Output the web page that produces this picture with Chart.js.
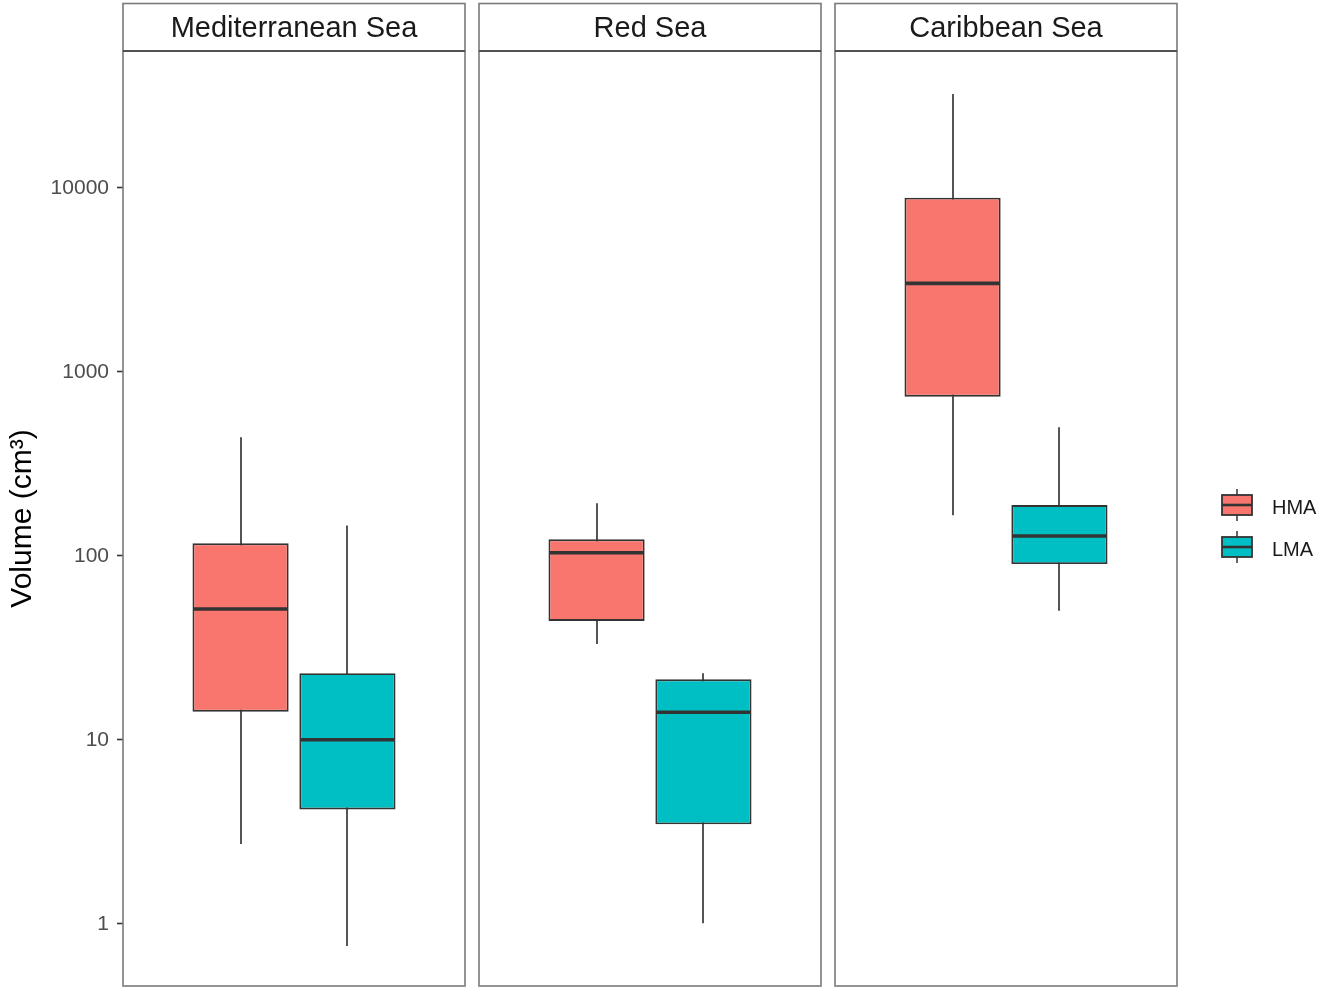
<!DOCTYPE html>
<html>
<head>
<meta charset="utf-8">
<title>Volume by sea and group</title>
<script src="https://cdn.jsdelivr.net/npm/chart.js@4.4.1/dist/chart.umd.min.js"></script>
<style>
  html, body { margin: 0; padding: 0; background: #ffffff; }
  #wrap { position: relative; width: 1324px; height: 988px; overflow: hidden; }
  #wrap canvas { position: absolute; top: 0; }
</style>
</head>
<body>
<div id="wrap">
  <canvas id="panel0" width="467" height="988" style="left:0px"></canvas>
  <canvas id="panel1" width="346" height="988" style="left:477px"></canvas>
  <canvas id="panel2" width="491" height="988" style="left:833px"></canvas>
</div>
<script>
// Facets and groups
const seas = ['Mediterranean Sea', 'Red Sea', 'Caribbean Sea'];
const groups = ['HMA', 'LMA'];
const groupColors = ['#F8766D', '#00BFC4'];

// Five-number summaries per sea (cm³), one entry per facet
const hmaLow    = [2.71, 33.1, 166];
const hmaQ1     = [14.2, 44.2, 731];
const hmaMedian = [51.3, 103.8, 3020];
const hmaQ3     = [116.8, 122.8, 8830];
const hmaHigh   = [440, 192.7, 32300];

const lmaLow    = [0.756, 1.005, 50.2];
const lmaQ1     = [4.18, 3.47, 90.1];
const lmaMedian = [10, 14.1, 128];
const lmaQ3     = [23.0, 21.3, 188.6];
const lmaHigh   = [146, 23.0, 499];

// Log axis
const yTicks = [1, 10, 100, 1000, 10000];
const yTickLabels = ['1', '10', '100', '1000', '10000'];
const yMin = 0.4586;
const yMax = 55340;
const yTitle = 'Volume (cm³)';

const FONT = "'Liberation Sans', Arial, Helvetica, sans-serif";

const summaries = [
  { low: hmaLow, q1: hmaQ1, median: hmaMedian, q3: hmaQ3, high: hmaHigh },
  { low: lmaLow, q1: lmaQ1, median: lmaMedian, q3: lmaQ3, high: lmaHigh }
];

// Whiskers go under the boxes, medians on top of them
const boxplotParts = {
  id: 'boxplotParts',
  beforeDatasetsDraw(chart) {
    const ctx = chart.ctx, y = chart.scales.y;
    chart.data.datasets.forEach((ds, di) => {
      chart.getDatasetMeta(di).data.forEach((bar) => {
        const s = ds.stats;
        const x = Math.round(bar.x);
        ctx.save();
        ctx.strokeStyle = '#555555';
        ctx.lineWidth = 2;
        ctx.beginPath();
        ctx.moveTo(x, y.getPixelForValue(s.high));
        ctx.lineTo(x, y.getPixelForValue(s.low));
        ctx.stroke();
        ctx.restore();
      });
    });
  },
  afterDatasetsDraw(chart) {
    const ctx = chart.ctx, y = chart.scales.y;
    chart.data.datasets.forEach((ds, di) => {
      chart.getDatasetMeta(di).data.forEach((bar) => {
        const yy = y.getPixelForValue(ds.stats.median);
        ctx.save();
        ctx.strokeStyle = '#333333';
        ctx.lineWidth = 3.6;
        ctx.beginPath();
        ctx.moveTo(bar.x - bar.width / 2 + 1, yy);
        ctx.lineTo(bar.x + bar.width / 2 - 1, yy);
        ctx.stroke();
        ctx.restore();
      });
    });
  }
};

// Panel frame and facet strip
const facetFrame = {
  id: 'facetFrame',
  afterDraw(chart, args, opts) {
    const ctx = chart.ctx, a = chart.chartArea;
    ctx.save();
    // strip
    ctx.fillStyle = '#ffffff';
    ctx.fillRect(a.left, 3, a.right - a.left, a.top - 3);
    ctx.strokeStyle = '#7a7a7a';
    ctx.lineWidth = 1.6;
    ctx.strokeRect(a.left, 3.5, a.right - a.left, a.top - 3.5);
    ctx.fillStyle = '#1a1a1a';
    ctx.font = '29px ' + FONT;
    ctx.textAlign = 'center';
    ctx.textBaseline = 'middle';
    ctx.fillText(opts.label, (a.left + a.right) / 2, 29);
    // panel border
    ctx.strokeStyle = '#7a7a7a';
    ctx.lineWidth = 1.6;
    ctx.strokeRect(a.left, a.top, a.right - a.left, a.bottom - a.top);
    // strip / panel divider
    ctx.strokeStyle = '#444444';
    ctx.beginPath();
    ctx.moveTo(a.left, a.top);
    ctx.lineTo(a.right, a.top);
    ctx.stroke();
    ctx.restore();
  }
};

// Boxplot-style legend keys on the right of the last panel
const boxLegend = {
  id: 'boxLegend',
  afterDraw(chart, args, opts) {
    if (!opts.show) return;
    const ctx = chart.ctx, a = chart.chartArea;
    const kx = a.right + 45, kw = 30, kh = 20;
    const tops = [495, 537];
    groups.forEach((g, i) => {
      const t = tops[i];
      const cx = kx + kw / 2;
      ctx.save();
      ctx.strokeStyle = '#555555';
      ctx.lineWidth = 1.8;
      ctx.beginPath();
      ctx.moveTo(cx, t - 6); ctx.lineTo(cx, t + kh + 6);
      ctx.stroke();
      ctx.fillStyle = groupColors[i];
      ctx.fillRect(kx, t, kw, kh);
      ctx.strokeStyle = '#333333';
      ctx.lineWidth = 1.8;
      ctx.strokeRect(kx, t, kw, kh);
      ctx.lineWidth = 2.6;
      ctx.beginPath();
      ctx.moveTo(kx, t + kh / 2); ctx.lineTo(kx + kw, t + kh / 2);
      ctx.stroke();
      ctx.fillStyle = '#1a1a1a';
      ctx.font = '20px ' + FONT;
      ctx.textAlign = 'left';
      ctx.textBaseline = 'middle';
      ctx.fillText(g, a.right + 95, t + kh / 2 + 3);
      ctx.restore();
    });
  }
};

function makePanel(p, canvasId, padding, showAxis, showLegend) {
  const datasets = groups.map((g, gi) => {
    const s = summaries[gi];
    return {
      label: g,
      data: [[s.q1[p], s.q3[p]]],
      stats: { low: s.low[p], q1: s.q1[p], median: s.median[p], q3: s.q3[p], high: s.high[p] },
      backgroundColor: groupColors[gi],
      borderColor: '#333333',
      borderWidth: 1.9,
      borderSkipped: false,
      categoryPercentage: 0.625,
      barPercentage: 0.9
    };
  });
  return new Chart(document.getElementById(canvasId), {
    type: 'bar',
    data: { labels: [seas[p]], datasets },
    options: {
      responsive: false,
      animation: false,
      layout: { padding },
      plugins: {
        legend: { display: false },
        tooltip: { enabled: false },
        facetFrame: { label: seas[p] },
        boxLegend: { show: showLegend }
      },
      scales: {
        x: { display: false },
        y: {
          type: 'logarithmic',
          min: yMin,
          max: yMax,
          display: showAxis,
          afterBuildTicks(scale) { scale.ticks = yTicks.map(v => ({ value: v })); },
          afterFit(scale) {
            // fixed axis gutter; labels must not shrink the panel
            scale.paddingTop = 0;
            scale.paddingBottom = 0;
            if (showAxis) scale.width = 123;
          },
          border: { display: false },
          grid: {
            drawOnChartArea: false,
            drawTicks: true,
            tickLength: 6,
            tickWidth: 1.6,
            tickColor: '#333333'
          },
          ticks: {
            padding: 8,
            color: '#4d4d4d',
            font: { family: FONT, size: 21 },
            callback(value) {
              const i = yTicks.indexOf(value);
              return i >= 0 ? yTickLabels[i] : '';
            }
          },
          title: {
            display: true,
            text: yTitle,
            color: '#000000',
            font: { family: FONT, size: 30 },
            padding: { top: 5, bottom: 0 }
          }
        }
      }
    },
    plugins: [boxplotParts, facetFrame, boxLegend]
  });
}

makePanel(0, 'panel0', { left: 0, right: 2, top: 51, bottom: 2 }, true, false);
makePanel(1, 'panel1', { left: 2, right: 2, top: 51, bottom: 2 }, false, false);
makePanel(2, 'panel2', { left: 2, right: 147, top: 51, bottom: 2 }, false, true);
</script>
</body>
</html>
